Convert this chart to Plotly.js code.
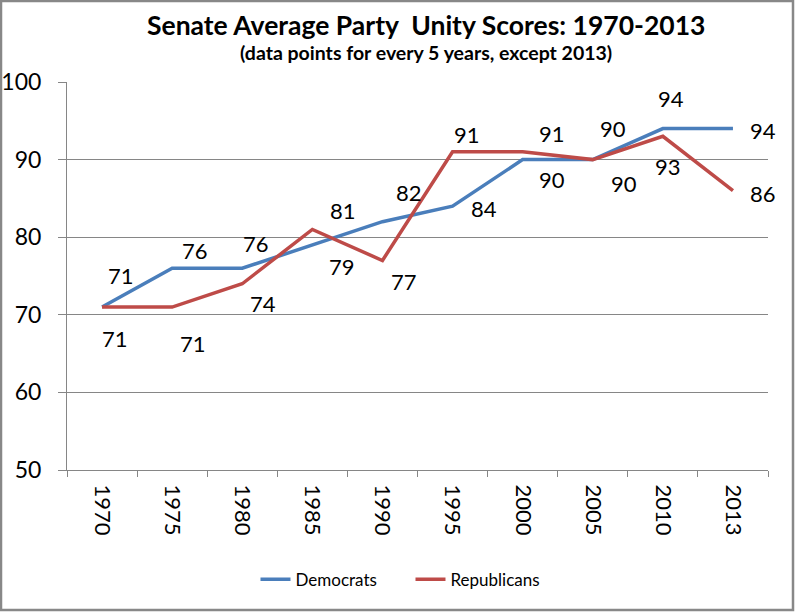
<!DOCTYPE html>
<html>
<head>
<meta charset="utf-8">
<script src="https://cdn.plot.ly/plotly-3.0.1.min.js"></script>
<style>html,body{margin:0;padding:0;background:#fff;}#chart{width:795px;height:612px;}</style>
</head>
<body>
<div id="chart"></div>
<script>
// ---- data ----
var years = ["1970","1975","1980","1985","1990","1995","2000","2005","2010","2013"];
var democrats = [71, 76, 76, 79, 82, 84, 90, 90, 94, 94];
var republicans = [71, 71, 74, 81, 77, 91, 91, 90, 93, 86];
var yTicks = [50, 60, 70, 80, 90, 100];

// ---- label offsets (pixels, styling only) ----
var demOffX = [19, 23, 14, 30, 27, 31, 29, 20, 8, 30];
var demOffY = [32, 18, 25, -22, 29, -2, -20, 31, 30, -2];
var repOffX = [13, 21, 21, 31, 22, 14, 29, 31, 5, 30];
var repOffY = [-31, -36, -20, 19, -21, 17, 18, -24, -30, -3];

var FONT = "Lato, 'Open Sans', sans-serif";
var blue = "#4A7EBB", red = "#BE4B48";

var traces = [
  {x: years, y: democrats, name: "Democrats", type: "scatter", mode: "lines",
   line: {color: blue, width: 3.5}},
  {x: years, y: republicans, name: "Republicans", type: "scatter", mode: "lines",
   line: {color: red, width: 3.5}}
];

var annotations = [];
function addLabels(vals, ox, oy) {
  for (var i = 0; i < years.length; i++) {
    annotations.push({x: i, y: vals[i], xref: "x", yref: "y", text: String(vals[i]),
      showarrow: false, xanchor: "center", yanchor: "middle",
      xshift: ox[i], yshift: oy[i], font: {family: FONT, size: 22, color: "#000"}});
  }
}
addLabels(democrats, demOffX, demOffY);
addLabels(republicans, repOffX, repOffY);

annotations.push({xref: "paper", yref: "paper", x: 0.512, y: 1.147, xanchor: "center", yanchor: "middle",
  text: "<b>Senate Average Party  Unity Scores: 1970-2013</b>", showarrow: false,
  font: {family: FONT, size: 26.5, color: "#000"}});
annotations.push({xref: "paper", yref: "paper", x: 0.512, y: 1.077, xanchor: "center", yanchor: "middle",
  text: "<b>(data points for every 5 years, except 2013)</b>", showarrow: false,
  font: {family: FONT, size: 19.5, color: "#000"}});

var layout = {
  width: 795, height: 612,
  margin: {l: 67, r: 27, t: 82, b: 142},
  paper_bgcolor: "#fff", plot_bgcolor: "#fff",
  font: {family: FONT, size: 22, color: "#000"},
  showlegend: true,
  legend: {orientation: "h", x: 0.49, xanchor: "center", y: -0.283, yanchor: "middle",
    entrywidth: 110, entrywidthmode: "pixels",
    font: {family: FONT, size: 17, color: "#000"}},
  xaxis: {type: "category", range: [-0.5, 9.5], showgrid: false, showline: true,
    linecolor: "#868686", linewidth: 1, ticks: "outside", tickson: "boundaries",
    ticklen: 6, tickcolor: "#868686", tickangle: 90, fixedrange: true,
    ticklabelstandoff: 9,
    tickfont: {family: FONT, size: 22, color: "#000"}},
  yaxis: {range: [50, 100], tickvals: yTicks, showgrid: true, gridcolor: "#868686", gridwidth: 1,
    showline: true, linecolor: "#868686", linewidth: 1, ticks: "outside", ticklen: 8,
    tickcolor: "#868686", zeroline: false, fixedrange: true,
    ticklabelstandoff: 12,
    tickfont: {family: FONT, size: 23, color: "#000"}},
  annotations: annotations,
  shapes: [{type: "rect", xref: "paper", yref: "paper",
    x0: -66/701, x1: 726/701, y0: -140/388, y1: 469/388,
    line: {color: "#888888", width: 2.5}, fillcolor: "rgba(0,0,0,0)"}]
};

Plotly.newPlot("chart", traces, layout, {displayModeBar: false, staticPlot: true});
</script>
</body>
</html>
